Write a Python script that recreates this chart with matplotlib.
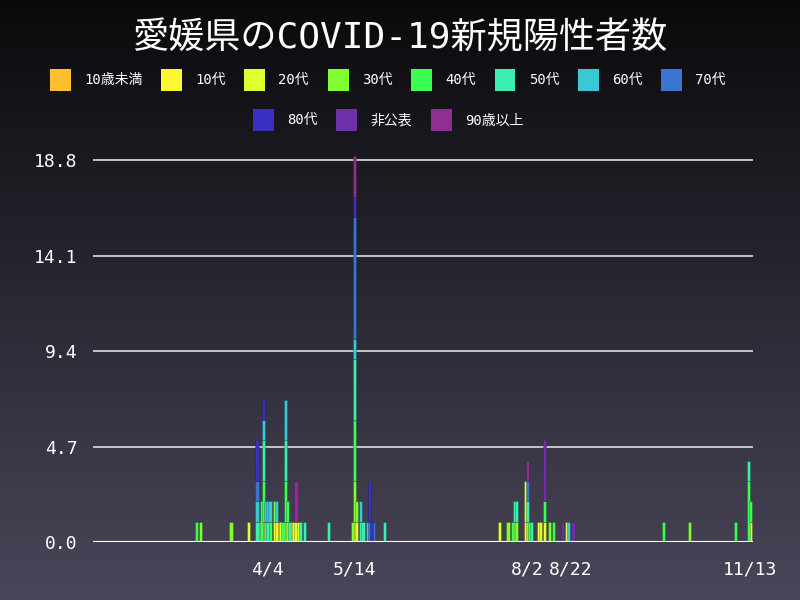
import numpy as np
import pandas as pd
import matplotlib
matplotlib.use("Agg")
import matplotlib.pyplot as plt
from matplotlib.patches import Patch

plt.rcParams['font.family'] = ['DejaVu Sans Mono', 'Noto Sans CJK JP']

YEAR = 2020

categories = ["10歳未満", "10代", "20代", "30代", "40代", "50代",
              "60代", "70代", "80代", "非公表", "90歳以上"]
colors = ["#ffbf2f", "#fff72f", "#dfff2f", "#7fff2f", "#3aff52", "#3aefaf",
          "#3ac8d8", "#3a75d0", "#3a2fbf", "#6f2fa8", "#8f2f8f"]

# daily new cases per age group (date -> count)
under10 = {"4/2": 1, "4/9": 1}
teens = {"4/7": 1, "4/12": 1, "4/15": 1, "5/14": 1, "8/1": 1, "8/7": 1, "11/13": 1}
twenties = {"3/26": 1, "4/8": 1, "4/10": 1, "4/16": 1, "4/17": 1, "4/18": 1,
            "5/15": 1, "7/20": 1, "7/27": 1, "8/1": 2, "8/8": 1, "8/10": 1, "8/20": 1}
thirties = {"3/4": 1, "3/18": 1, "3/31": 1, "4/7": 1, "4/13": 1, "5/13": 1,
            "5/14": 2, "5/15": 1, "7/24": 1, "7/28": 1, "8/2": 1, "8/12": 1, "10/16": 1}
forties = {"3/2": 1, "4/1": 2, "4/2": 2, "4/5": 1, "4/11": 1, "4/12": 2, "4/13": 1,
           "5/14": 3, "7/26": 1, "8/3": 1, "8/10": 1, "8/14": 1, "10/4": 1,
           "11/6": 1, "11/12": 3, "11/13": 1}
fifties = {"3/30": 1, "4/2": 2, "4/3": 1, "4/4": 1, "4/12": 2, "4/14": 1, "4/19": 1,
           "4/21": 1, "5/2": 1, "5/14": 3, "5/17": 1, "5/18": 1, "5/28": 1,
           "7/27": 1, "7/28": 1, "8/2": 1, "8/4": 1, "11/12": 1}
sixties = {"3/30": 1, "4/2": 1, "4/3": 1, "4/4": 1, "4/5": 1, "4/8": 1, "4/12": 2,
           "5/14": 1, "5/17": 1, "5/20": 1, "8/21": 1}
seventies = {"3/30": 1, "5/14": 6, "5/21": 1, "5/23": 1, "8/2": 1}
eighties = {"3/30": 2, "4/2": 1, "5/14": 1, "5/21": 2, "5/22": 1}
undisclosed = {"8/10": 3, "8/18": 1, "8/23": 1}
over90 = {"4/17": 2, "5/14": 2, "8/2": 1}

series = [under10, teens, twenties, thirties, forties, fifties,
          sixties, seventies, eighties, undisclosed, over90]

tick_dates = ["4/4", "5/14", "8/2", "8/22", "11/13"]
y_ticks = [0.0, 4.7, 9.4, 14.1, 18.8]

jan1 = pd.Timestamp(f"{YEAR}-01-01")


def day_index(md):
    return (pd.Timestamp(f"{YEAR}/{md}") - jan1).days


fig = plt.figure(figsize=(8, 6), dpi=100)

# background gradient
bg = fig.add_axes([0, 0, 1, 1], zorder=-10)
top = np.array([10, 10, 12]) / 255
bot = np.array([74, 70, 90]) / 255
t = np.linspace(0, 1, 256)[:, None]
grad = (top[None, :] * (1 - t) + bot[None, :] * t)[:, None, :]
bg.imshow(grad, aspect="auto", extent=[0, 1, 0, 1])
bg.axis("off")

ax = fig.add_axes([93 / 800, 58 / 600, (753 - 93) / 800, (542 - 156) / 600])
ax.set_facecolor("none")

bottom = {}
for name, col, data in zip(categories, colors, series):
    xs = [day_index(k) for k in data]
    hs = list(data.values())
    bs = [bottom.get(x, 0) for x in xs]
    ax.bar(xs, hs, bottom=bs, width=1.45, color=col,
           edgecolor=(0.1, 0.1, 0.15, 0.35), linewidth=0.5, zorder=3)
    for x, h in zip(xs, hs):
        bottom[x] = bottom.get(x, 0) + h

ax.set_xlim(13.2, 318.2)
ax.set_ylim(0, 19)
ax.set_yticks(y_ticks)
ax.set_yticklabels([f"{v:.1f}" for v in y_ticks])
ax.set_xticks([day_index(d) for d in tick_dates])
ax.set_xticklabels(tick_dates)
ax.tick_params(length=0, colors="white", labelsize=13)
ax.tick_params(axis="x", pad=13)
ax.tick_params(axis="y", pad=11)
for s in ax.spines.values():
    s.set_visible(False)
for v in y_ticks[1:]:
    ax.axhline(v, color="#d0d0d0", linewidth=1.3, zorder=1)
ax.axhline(0, color="white", linewidth=1.5, zorder=4)

fig.text(0.5, 1 - 38 / 600, "愛媛県のCOVID-19新規陽性者数", color="white",
         fontsize=26, ha="center", va="center")

handles = [Patch(facecolor=c, edgecolor="none") for c in colors]
kw = dict(frameon=False, fontsize=10, labelcolor="white", handlelength=1.5,
          handleheight=2.0, handletextpad=0.95, columnspacing=1.35, loc="center")
fig.legend(handles[:8], categories[:8], ncol=8,
           bbox_to_anchor=(388 / 800, 1 - 80 / 600), **kw)
fig.legend(handles[8:], categories[8:], ncol=3,
           bbox_to_anchor=(388 / 800, 1 - 120 / 600), **kw)

fig.savefig("out.png", dpi=100)
